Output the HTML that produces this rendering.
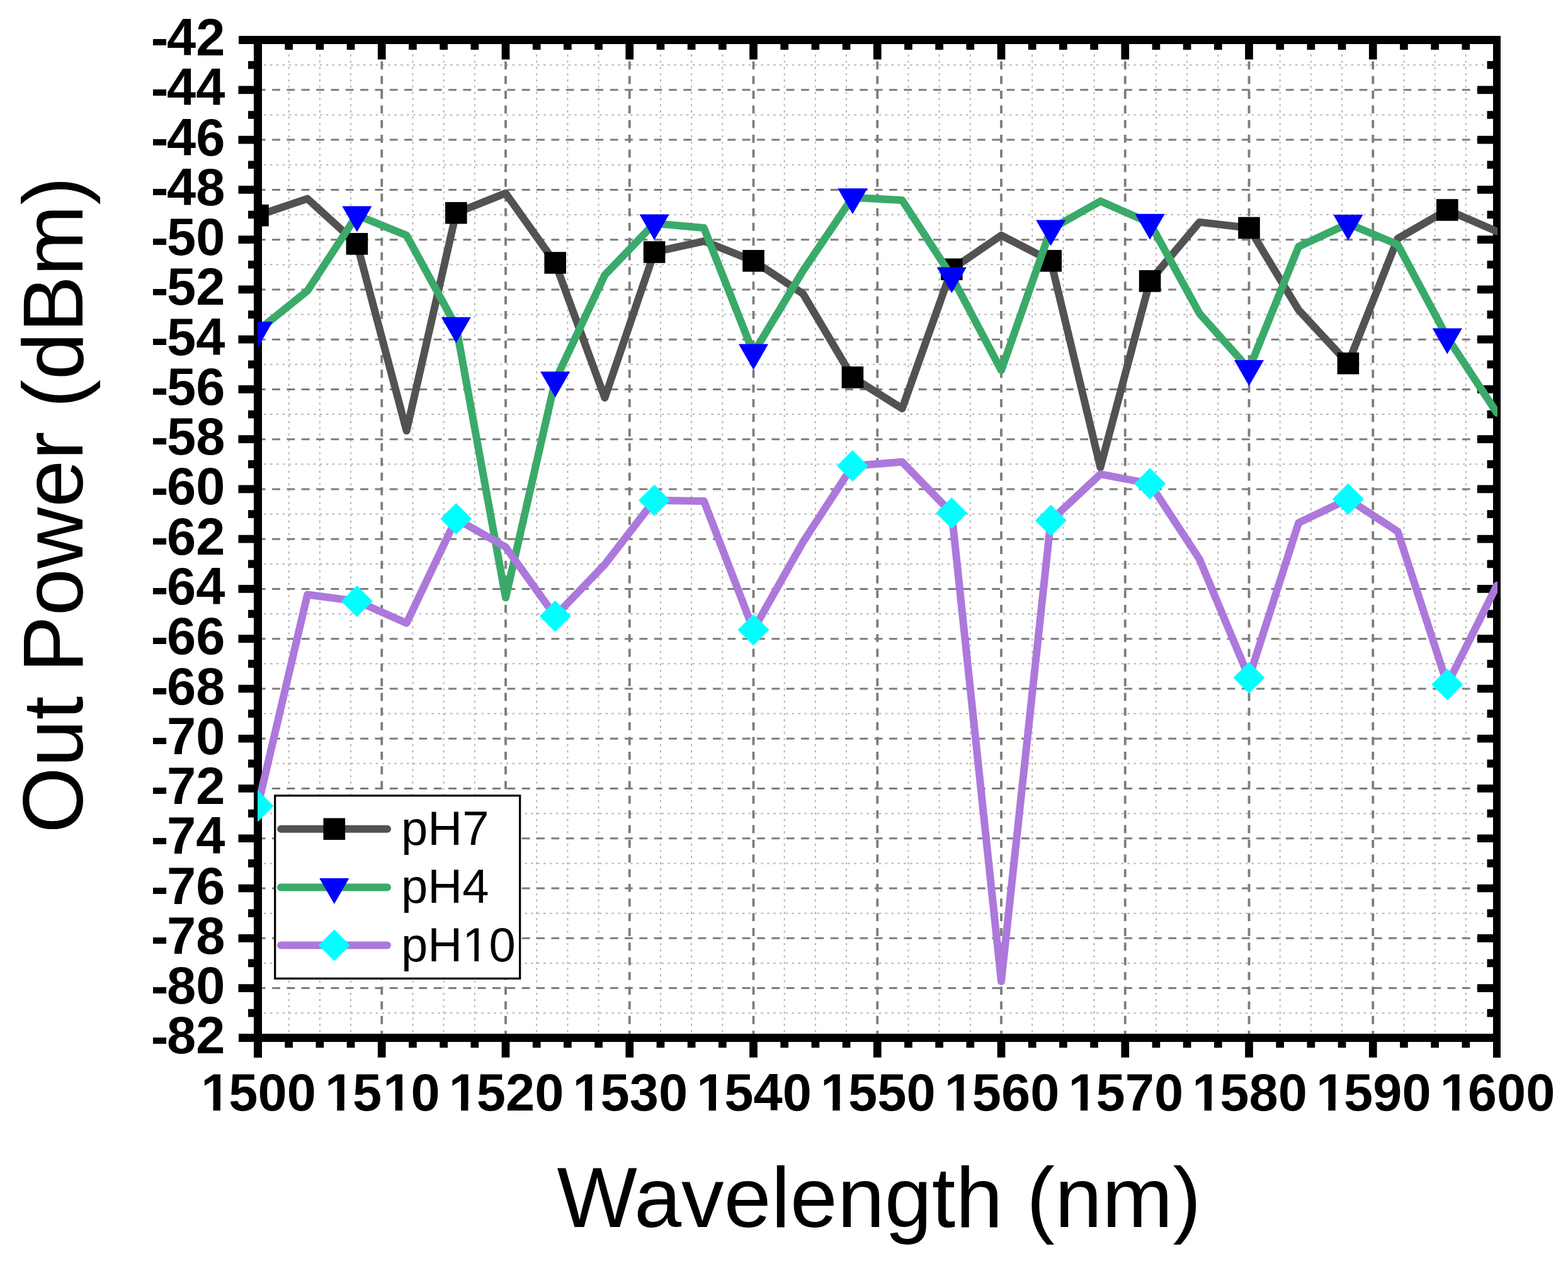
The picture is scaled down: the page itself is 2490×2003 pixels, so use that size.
<!DOCTYPE html>
<html><head><meta charset="utf-8"><title>Out Power vs Wavelength</title>
<style>
html,body{margin:0;padding:0;background:#fff;}
body{width:2490px;height:2003px;overflow:hidden;}
svg{display:block;}
</style></head>
<body>
<svg width="2490" height="2003" viewBox="0 0 2490 2003">
<rect x="0" y="0" width="2490" height="2003" fill="#fff"/>
<defs><clipPath id="clip"><rect x="409.00" y="63.10" width="1969.00" height="1586.20"/></clipPath></defs>
<path d="M409.50 103.23H2377.00M409.50 182.49H2377.00M409.50 261.75H2377.00M409.50 341.01H2377.00M409.50 420.27H2377.00M409.50 499.53H2377.00M409.50 578.79H2377.00M409.50 658.05H2377.00M409.50 737.31H2377.00M409.50 816.57H2377.00M409.50 895.83H2377.00M409.50 975.09H2377.00M409.50 1054.35H2377.00M409.50 1133.61H2377.00M409.50 1212.87H2377.00M409.50 1292.13H2377.00M409.50 1371.39H2377.00M409.50 1450.65H2377.00M409.50 1529.91H2377.00M409.50 1609.17H2377.00" stroke="#b4b4b4" stroke-width="2.0" stroke-dasharray="3.5 6.366" stroke-dashoffset="0.27" fill="none"/>
<path d="M458.69 63.60V1648.80M507.88 63.60V1648.80M557.06 63.60V1648.80M655.44 63.60V1648.80M704.62 63.60V1648.80M753.81 63.60V1648.80M852.19 63.60V1648.80M901.38 63.60V1648.80M950.56 63.60V1648.80M1048.94 63.60V1648.80M1098.12 63.60V1648.80M1147.31 63.60V1648.80M1245.69 63.60V1648.80M1294.88 63.60V1648.80M1344.06 63.60V1648.80M1442.44 63.60V1648.80M1491.62 63.60V1648.80M1540.81 63.60V1648.80M1639.19 63.60V1648.80M1688.38 63.60V1648.80M1737.56 63.60V1648.80M1835.94 63.60V1648.80M1885.12 63.60V1648.80M1934.31 63.60V1648.80M2032.69 63.60V1648.80M2081.88 63.60V1648.80M2131.06 63.60V1648.80M2229.44 63.60V1648.80M2278.62 63.60V1648.80M2327.81 63.60V1648.80" stroke="#b4b4b4" stroke-width="2.0" stroke-dasharray="3.4 6.47" stroke-dashoffset="-3.18" fill="none"/>
<path d="M409.50 142.86H2377.00M409.50 222.12H2377.00M409.50 301.38H2377.00M409.50 380.64H2377.00M409.50 459.90H2377.00M409.50 539.16H2377.00M409.50 618.42H2377.00M409.50 697.68H2377.00M409.50 776.94H2377.00M409.50 856.20H2377.00M409.50 935.46H2377.00M409.50 1014.72H2377.00M409.50 1093.98H2377.00M409.50 1173.24H2377.00M409.50 1252.50H2377.00M409.50 1331.76H2377.00M409.50 1411.02H2377.00M409.50 1490.28H2377.00M409.50 1569.54H2377.00" stroke="#7c7c7c" stroke-width="3.0" stroke-dasharray="12.8 10.53" stroke-dashoffset="0.7" fill="none"/>
<path d="M606.25 1648.80V63.60M803.00 1648.80V63.60M999.75 1648.80V63.60M1196.50 1648.80V63.60M1393.25 1648.80V63.60M1590.00 1648.80V63.60M1786.75 1648.80V63.60M1983.50 1648.80V63.60M2180.25 1648.80V63.60" stroke="#7c7c7c" stroke-width="3.8" stroke-dasharray="12.8 10.53" stroke-dashoffset="1.2" fill="none"/>
<path d="M403 57H2383V1680H2371V70H416V1680H403Z M416 1642H2371V1655H416Z" fill="#000"/>
<path d="M379 57H403V70H379Z M379 1642H403V1655H379Z" fill="#000"/>
<path d="M394.00 103.23H409.50M2361.50 103.23H2377.00M378.50 142.86H409.50M2346.00 142.86H2377.00M394.00 182.49H409.50M2361.50 182.49H2377.00M378.50 222.12H409.50M2346.00 222.12H2377.00M394.00 261.75H409.50M2361.50 261.75H2377.00M378.50 301.38H409.50M2346.00 301.38H2377.00M394.00 341.01H409.50M2361.50 341.01H2377.00M378.50 380.64H409.50M2346.00 380.64H2377.00M394.00 420.27H409.50M2361.50 420.27H2377.00M378.50 459.90H409.50M2346.00 459.90H2377.00M394.00 499.53H409.50M2361.50 499.53H2377.00M378.50 539.16H409.50M2346.00 539.16H2377.00M394.00 578.79H409.50M2361.50 578.79H2377.00M378.50 618.42H409.50M2346.00 618.42H2377.00M394.00 658.05H409.50M2361.50 658.05H2377.00M378.50 697.68H409.50M2346.00 697.68H2377.00M394.00 737.31H409.50M2361.50 737.31H2377.00M378.50 776.94H409.50M2346.00 776.94H2377.00M394.00 816.57H409.50M2361.50 816.57H2377.00M378.50 856.20H409.50M2346.00 856.20H2377.00M394.00 895.83H409.50M2361.50 895.83H2377.00M378.50 935.46H409.50M2346.00 935.46H2377.00M394.00 975.09H409.50M2361.50 975.09H2377.00M378.50 1014.72H409.50M2346.00 1014.72H2377.00M394.00 1054.35H409.50M2361.50 1054.35H2377.00M378.50 1093.98H409.50M2346.00 1093.98H2377.00M394.00 1133.61H409.50M2361.50 1133.61H2377.00M378.50 1173.24H409.50M2346.00 1173.24H2377.00M394.00 1212.87H409.50M2361.50 1212.87H2377.00M378.50 1252.50H409.50M2346.00 1252.50H2377.00M394.00 1292.13H409.50M2361.50 1292.13H2377.00M378.50 1331.76H409.50M2346.00 1331.76H2377.00M394.00 1371.39H409.50M2361.50 1371.39H2377.00M378.50 1411.02H409.50M2346.00 1411.02H2377.00M394.00 1450.65H409.50M2361.50 1450.65H2377.00M378.50 1490.28H409.50M2346.00 1490.28H2377.00M394.00 1529.91H409.50M2361.50 1529.91H2377.00M378.50 1569.54H409.50M2346.00 1569.54H2377.00M394.00 1609.17H409.50M2361.50 1609.17H2377.00M458.69 1648.80V1664.30M458.69 63.60V79.10M507.88 1648.80V1664.30M507.88 63.60V79.10M557.06 1648.80V1664.30M557.06 63.60V79.10M606.25 1648.80V1679.80M606.25 63.60V94.60M655.44 1648.80V1664.30M655.44 63.60V79.10M704.62 1648.80V1664.30M704.62 63.60V79.10M753.81 1648.80V1664.30M753.81 63.60V79.10M803.00 1648.80V1679.80M803.00 63.60V94.60M852.19 1648.80V1664.30M852.19 63.60V79.10M901.38 1648.80V1664.30M901.38 63.60V79.10M950.56 1648.80V1664.30M950.56 63.60V79.10M999.75 1648.80V1679.80M999.75 63.60V94.60M1048.94 1648.80V1664.30M1048.94 63.60V79.10M1098.12 1648.80V1664.30M1098.12 63.60V79.10M1147.31 1648.80V1664.30M1147.31 63.60V79.10M1196.50 1648.80V1679.80M1196.50 63.60V94.60M1245.69 1648.80V1664.30M1245.69 63.60V79.10M1294.88 1648.80V1664.30M1294.88 63.60V79.10M1344.06 1648.80V1664.30M1344.06 63.60V79.10M1393.25 1648.80V1679.80M1393.25 63.60V94.60M1442.44 1648.80V1664.30M1442.44 63.60V79.10M1491.62 1648.80V1664.30M1491.62 63.60V79.10M1540.81 1648.80V1664.30M1540.81 63.60V79.10M1590.00 1648.80V1679.80M1590.00 63.60V94.60M1639.19 1648.80V1664.30M1639.19 63.60V79.10M1688.38 1648.80V1664.30M1688.38 63.60V79.10M1737.56 1648.80V1664.30M1737.56 63.60V79.10M1786.75 1648.80V1679.80M1786.75 63.60V94.60M1835.94 1648.80V1664.30M1835.94 63.60V79.10M1885.12 1648.80V1664.30M1885.12 63.60V79.10M1934.31 1648.80V1664.30M1934.31 63.60V79.10M1983.50 1648.80V1679.80M1983.50 63.60V94.60M2032.69 1648.80V1664.30M2032.69 63.60V79.10M2081.88 1648.80V1664.30M2081.88 63.60V79.10M2131.06 1648.80V1664.30M2131.06 63.60V79.10M2180.25 1648.80V1679.80M2180.25 63.60V94.60M2229.44 1648.80V1664.30M2229.44 63.60V79.10M2278.62 1648.80V1664.30M2278.62 63.60V79.10M2327.81 1648.80V1664.30M2327.81 63.60V79.10" stroke="#000" stroke-width="12.70" stroke-linecap="butt" fill="none"/>
<g font-family="'Liberation Sans', Arial, sans-serif" font-weight="bold" font-size="83" fill="#000">
<text x="357.3" y="88.1" text-anchor="end"><tspan dy="1.2">-</tspan><tspan dx="-2.5" dy="-1.2">42</tspan></text>
<text x="357.3" y="167.4" text-anchor="end"><tspan dy="1.2">-</tspan><tspan dx="-2.5" dy="-1.2">44</tspan></text>
<text x="357.3" y="246.6" text-anchor="end"><tspan dy="1.2">-</tspan><tspan dx="-2.5" dy="-1.2">46</tspan></text>
<text x="357.3" y="325.9" text-anchor="end"><tspan dy="1.2">-</tspan><tspan dx="-2.5" dy="-1.2">48</tspan></text>
<text x="357.3" y="405.1" text-anchor="end"><tspan dy="1.2">-</tspan><tspan dx="-2.5" dy="-1.2">50</tspan></text>
<text x="357.3" y="484.4" text-anchor="end"><tspan dy="1.2">-</tspan><tspan dx="-2.5" dy="-1.2">52</tspan></text>
<text x="357.3" y="563.7" text-anchor="end"><tspan dy="1.2">-</tspan><tspan dx="-2.5" dy="-1.2">54</tspan></text>
<text x="357.3" y="642.9" text-anchor="end"><tspan dy="1.2">-</tspan><tspan dx="-2.5" dy="-1.2">56</tspan></text>
<text x="357.3" y="722.2" text-anchor="end"><tspan dy="1.2">-</tspan><tspan dx="-2.5" dy="-1.2">58</tspan></text>
<text x="357.3" y="801.4" text-anchor="end"><tspan dy="1.2">-</tspan><tspan dx="-2.5" dy="-1.2">60</tspan></text>
<text x="357.3" y="880.7" text-anchor="end"><tspan dy="1.2">-</tspan><tspan dx="-2.5" dy="-1.2">62</tspan></text>
<text x="357.3" y="960.0" text-anchor="end"><tspan dy="1.2">-</tspan><tspan dx="-2.5" dy="-1.2">64</tspan></text>
<text x="357.3" y="1039.2" text-anchor="end"><tspan dy="1.2">-</tspan><tspan dx="-2.5" dy="-1.2">66</tspan></text>
<text x="357.3" y="1118.5" text-anchor="end"><tspan dy="1.2">-</tspan><tspan dx="-2.5" dy="-1.2">68</tspan></text>
<text x="357.3" y="1197.7" text-anchor="end"><tspan dy="1.2">-</tspan><tspan dx="-2.5" dy="-1.2">70</tspan></text>
<text x="357.3" y="1277.0" text-anchor="end"><tspan dy="1.2">-</tspan><tspan dx="-2.5" dy="-1.2">72</tspan></text>
<text x="357.3" y="1356.3" text-anchor="end"><tspan dy="1.2">-</tspan><tspan dx="-2.5" dy="-1.2">74</tspan></text>
<text x="357.3" y="1435.5" text-anchor="end"><tspan dy="1.2">-</tspan><tspan dx="-2.5" dy="-1.2">76</tspan></text>
<text x="357.3" y="1514.8" text-anchor="end"><tspan dy="1.2">-</tspan><tspan dx="-2.5" dy="-1.2">78</tspan></text>
<text x="357.3" y="1594.0" text-anchor="end"><tspan dy="1.2">-</tspan><tspan dx="-2.5" dy="-1.2">80</tspan></text>
<text x="357.3" y="1673.3" text-anchor="end"><tspan dy="1.2">-</tspan><tspan dx="-2.5" dy="-1.2">82</tspan></text>
<text x="317.18" y="1764.0"><tspan dx="2">1</tspan><tspan dx="-2">5</tspan>00</text>
<text x="513.93" y="1764.0"><tspan dx="2">1</tspan><tspan dx="-2">5</tspan><tspan dx="2">1</tspan><tspan dx="-2">0</tspan></text>
<text x="710.68" y="1764.0"><tspan dx="2">1</tspan><tspan dx="-2">5</tspan>20</text>
<text x="907.43" y="1764.0"><tspan dx="2">1</tspan><tspan dx="-2">5</tspan>30</text>
<text x="1104.18" y="1764.0"><tspan dx="2">1</tspan><tspan dx="-2">5</tspan>40</text>
<text x="1300.93" y="1764.0"><tspan dx="2">1</tspan><tspan dx="-2">5</tspan>50</text>
<text x="1497.68" y="1764.0"><tspan dx="2">1</tspan><tspan dx="-2">5</tspan>60</text>
<text x="1694.43" y="1764.0"><tspan dx="2">1</tspan><tspan dx="-2">5</tspan>70</text>
<text x="1891.18" y="1764.0"><tspan dx="2">1</tspan><tspan dx="-2">5</tspan>80</text>
<text x="2087.93" y="1764.0"><tspan dx="2">1</tspan><tspan dx="-2">5</tspan>90</text>
<text x="2284.68" y="1764.0"><tspan dx="2">1</tspan><tspan dx="-2">6</tspan>00</text>
</g>
<path fill="#fff" d="M323.41 1754.03H338.55V1765.00H323.41ZM349.94 1754.03H364.03V1765.00H349.94ZM520.16 1754.03H535.30V1765.00H520.16ZM546.69 1754.03H560.78V1765.00H546.69ZM612.48 1754.03H627.62V1765.00H612.48ZM639.01 1754.03H653.10V1765.00H639.01ZM716.91 1754.03H732.05V1765.00H716.91ZM743.44 1754.03H757.53V1765.00H743.44ZM913.66 1754.03H928.80V1765.00H913.66ZM940.19 1754.03H954.28V1765.00H940.19ZM1110.41 1754.03H1125.55V1765.00H1110.41ZM1136.94 1754.03H1151.03V1765.00H1136.94ZM1307.16 1754.03H1322.30V1765.00H1307.16ZM1333.69 1754.03H1347.78V1765.00H1333.69ZM1503.91 1754.03H1519.05V1765.00H1503.91ZM1530.44 1754.03H1544.53V1765.00H1530.44ZM1700.66 1754.03H1715.80V1765.00H1700.66ZM1727.19 1754.03H1741.28V1765.00H1727.19ZM1897.41 1754.03H1912.55V1765.00H1897.41ZM1923.94 1754.03H1938.03V1765.00H1923.94ZM2094.16 1754.03H2109.30V1765.00H2094.16ZM2120.69 1754.03H2134.78V1765.00H2120.69ZM2290.91 1754.03H2306.05V1765.00H2290.91ZM2317.44 1754.03H2331.53V1765.00H2317.44Z"/>
<g font-family="'Liberation Sans', Arial, sans-serif" font-size="135" fill="#000">
<text x="1396" y="1948.5" text-anchor="middle">Wavelength (nm)</text>
<text transform="translate(130.5 802) rotate(-90)" text-anchor="middle">Out Power (dBm)</text>
</g>
<g clip-path="url(#clip)">
<path d="M409.50 342.20 L488.20 315.65 L566.90 387.38 L645.60 684.21 L724.30 338.24 L803.00 306.93 L881.70 417.50 L960.40 631.89 L1039.10 400.46 L1117.80 383.02 L1196.50 414.33 L1275.20 466.64 L1353.90 599.40 L1432.60 648.94 L1511.30 427.80 L1590.00 373.90 L1668.70 414.33 L1747.40 742.46 L1826.10 446.43 L1904.80 352.90 L1983.50 362.01 L2062.20 492.40 L2140.90 577.20 L2219.60 379.05 L2298.30 333.48 L2377.00 367.56" stroke="#525252" stroke-width="12.0" stroke-linejoin="round" stroke-linecap="round" fill="none"/>
<rect x="392.20" y="324.90" width="34.60" height="34.60" fill="#000"/>
<rect x="549.60" y="370.08" width="34.60" height="34.60" fill="#000"/>
<rect x="707.00" y="320.94" width="34.60" height="34.60" fill="#000"/>
<rect x="864.40" y="400.20" width="34.60" height="34.60" fill="#000"/>
<rect x="1021.80" y="383.16" width="34.60" height="34.60" fill="#000"/>
<rect x="1179.20" y="397.03" width="34.60" height="34.60" fill="#000"/>
<rect x="1336.60" y="582.10" width="34.60" height="34.60" fill="#000"/>
<rect x="1494.00" y="410.50" width="34.60" height="34.60" fill="#000"/>
<rect x="1651.40" y="397.03" width="34.60" height="34.60" fill="#000"/>
<rect x="1808.80" y="429.13" width="34.60" height="34.60" fill="#000"/>
<rect x="1966.20" y="344.71" width="34.60" height="34.60" fill="#000"/>
<rect x="2123.60" y="559.90" width="34.60" height="34.60" fill="#000"/>
<rect x="2281.00" y="316.18" width="34.60" height="34.60" fill="#000"/>
<path d="M409.50 525.29 L488.20 461.88 L566.90 341.80 L645.60 373.90 L724.30 518.16 L803.00 949.33 L881.70 604.55 L960.40 436.91 L1039.10 354.88 L1117.80 362.01 L1196.50 560.96 L1275.20 430.18 L1353.90 313.67 L1432.60 318.02 L1511.30 438.90 L1590.00 588.30 L1668.70 364.00 L1747.40 319.61 L1826.10 354.09 L1904.80 497.94 L1983.50 586.32 L2062.20 391.74 L2140.90 355.28 L2219.60 388.57 L2298.30 535.99 L2377.00 655.67" stroke="#3aaa6a" stroke-width="12.0" stroke-linejoin="round" stroke-linecap="round" fill="none"/>
<path d="M385.90 510.89H433.10L409.50 551.89Z" fill="#0000ff"/>
<path d="M543.30 327.40H590.50L566.90 368.40Z" fill="#0000ff"/>
<path d="M700.70 503.76H747.90L724.30 544.76Z" fill="#0000ff"/>
<path d="M858.10 590.15H905.30L881.70 631.15Z" fill="#0000ff"/>
<path d="M1015.50 340.48H1062.70L1039.10 381.48Z" fill="#0000ff"/>
<path d="M1172.90 546.56H1220.10L1196.50 587.56Z" fill="#0000ff"/>
<path d="M1330.30 299.27H1377.50L1353.90 340.27Z" fill="#0000ff"/>
<path d="M1487.70 424.50H1534.90L1511.30 465.50Z" fill="#0000ff"/>
<path d="M1645.10 349.60H1692.30L1668.70 390.60Z" fill="#0000ff"/>
<path d="M1802.50 339.69H1849.70L1826.10 380.69Z" fill="#0000ff"/>
<path d="M1959.90 571.92H2007.10L1983.50 612.92Z" fill="#0000ff"/>
<path d="M2117.30 340.88H2164.50L2140.90 381.88Z" fill="#0000ff"/>
<path d="M2274.70 521.59H2321.90L2298.30 562.59Z" fill="#0000ff"/>
<path d="M409.50 1280.24 L488.20 944.57 L566.90 954.88 L645.60 989.75 L724.30 824.10 L803.00 868.88 L881.70 978.66 L960.40 896.62 L1039.10 794.77 L1117.80 795.96 L1196.50 1000.45 L1275.20 860.96 L1353.90 740.08 L1432.60 733.74 L1511.30 814.98 L1590.00 1558.84 L1668.70 826.87 L1747.40 753.16 L1826.10 768.22 L1904.80 888.30 L1983.50 1076.54 L2062.20 830.44 L2140.90 792.79 L2219.60 844.31 L2298.30 1087.24 L2377.00 929.91" stroke="#ad78db" stroke-width="12.0" stroke-linejoin="round" stroke-linecap="round" fill="none"/>
<path d="M409.50 1255.24L434.50 1280.24L409.50 1305.24L384.50 1280.24Z" fill="#00ffff"/>
<path d="M566.90 929.88L591.90 954.88L566.90 979.88L541.90 954.88Z" fill="#00ffff"/>
<path d="M724.30 799.10L749.30 824.10L724.30 849.10L699.30 824.10Z" fill="#00ffff"/>
<path d="M881.70 953.66L906.70 978.66L881.70 1003.66L856.70 978.66Z" fill="#00ffff"/>
<path d="M1039.10 769.77L1064.10 794.77L1039.10 819.77L1014.10 794.77Z" fill="#00ffff"/>
<path d="M1196.50 975.45L1221.50 1000.45L1196.50 1025.45L1171.50 1000.45Z" fill="#00ffff"/>
<path d="M1353.90 715.08L1378.90 740.08L1353.90 765.08L1328.90 740.08Z" fill="#00ffff"/>
<path d="M1511.30 789.98L1536.30 814.98L1511.30 839.98L1486.30 814.98Z" fill="#00ffff"/>
<path d="M1668.70 801.87L1693.70 826.87L1668.70 851.87L1643.70 826.87Z" fill="#00ffff"/>
<path d="M1826.10 743.22L1851.10 768.22L1826.10 793.22L1801.10 768.22Z" fill="#00ffff"/>
<path d="M1983.50 1051.54L2008.50 1076.54L1983.50 1101.54L1958.50 1076.54Z" fill="#00ffff"/>
<path d="M2140.90 767.79L2165.90 792.79L2140.90 817.79L2115.90 792.79Z" fill="#00ffff"/>
<path d="M2298.30 1062.24L2323.30 1087.24L2298.30 1112.24L2273.30 1087.24Z" fill="#00ffff"/>
</g>
<rect x="436.7" y="1263.8" width="389" height="290.5" fill="#fff" stroke="#000" stroke-width="3.2"/>
<path d="M446 1316.8H615" stroke="#525252" stroke-width="12.0" stroke-linecap="round" fill="none"/>
<rect x="513.50" y="1299.50" width="34.60" height="34.60" fill="#000"/>
<path d="M446 1409.5H615" stroke="#3aaa6a" stroke-width="12.0" stroke-linecap="round" fill="none"/>
<path d="M507.20 1395.10H554.40L530.80 1436.10Z" fill="#0000ff"/>
<path d="M446 1501.5H615" stroke="#ad78db" stroke-width="12.0" stroke-linecap="round" fill="none"/>
<path d="M530.80 1476.50L555.80 1501.50L530.80 1526.50L505.80 1501.50Z" fill="#00ffff"/>
<g font-family="'Liberation Sans', Arial, sans-serif" font-size="76" fill="#000">
<text x="637" y="1342.3">pH7</text>
<text x="637" y="1433.9">pH4</text>
<text x="637" y="1527.2">pH10</text>
</g>
<path fill="#fff" d="M738.94 1520.02H753.26V1528.20H738.94Z M759.98 1520.02H773.71V1528.20H759.98Z"/>
</svg>
</body></html>
